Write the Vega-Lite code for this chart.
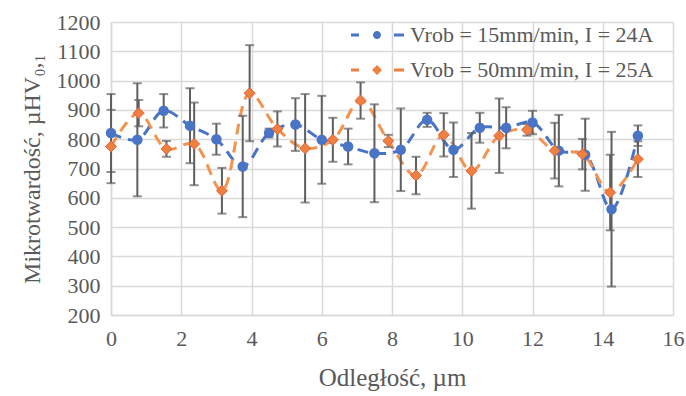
{
  "$schema": "https://vega.github.io/schema/vega-lite/v6.json",
  "width": 562,
  "height": 293,
  "autosize": {"type": "none"},
  "padding": {"left": 111, "top": 22, "right": 13, "bottom": 81},
  "background": "white",
  "config": {
    "font": "Liberation Serif",
    "view": {"stroke": null},
    "axis": {
      "labelFont": "Liberation Serif",
      "titleFont": "Liberation Serif",
      "labelFontSize": 22,
      "titleFontSize": 25,
      "titleFontWeight": "normal",
      "labelColor": "#595959",
      "titleColor": "#595959",
      "gridColor": "#d9d9d9",
      "gridWidth": 1.5,
      "domainColor": "#d9d9d9",
      "domainWidth": 1.5,
      "ticks": false,
      "labelOverlap": false,
      "labelFlush": false
    },
    "legend": {
      "labelFont": "Liberation Serif",
      "labelFontSize": 22,
      "labelColor": "#595959",
      "labelLimit": 400
    }
  },
  "data": {
    "values": [
      {"s": "Vrob = 15mm/min, I = 24A", "x": 0, "y": 821, "lo": 688, "hi": 954},
      {"s": "Vrob = 15mm/min, I = 24A", "x": 0.75, "y": 798, "lo": 605, "hi": 991},
      {"s": "Vrob = 15mm/min, I = 24A", "x": 1.5, "y": 897, "lo": 840, "hi": 954},
      {"s": "Vrob = 15mm/min, I = 24A", "x": 2.25, "y": 846, "lo": 718, "hi": 974},
      {"s": "Vrob = 15mm/min, I = 24A", "x": 3.0, "y": 800, "lo": 747, "hi": 853},
      {"s": "Vrob = 15mm/min, I = 24A", "x": 3.75, "y": 707, "lo": 534, "hi": 880},
      {"s": "Vrob = 15mm/min, I = 24A", "x": 4.5, "y": 821, "lo": 806, "hi": 836},
      {"s": "Vrob = 15mm/min, I = 24A", "x": 5.25, "y": 850, "lo": 760, "hi": 940},
      {"s": "Vrob = 15mm/min, I = 24A", "x": 6.0, "y": 798, "lo": 648, "hi": 948},
      {"s": "Vrob = 15mm/min, I = 24A", "x": 6.75, "y": 775, "lo": 714, "hi": 836},
      {"s": "Vrob = 15mm/min, I = 24A", "x": 7.5, "y": 752, "lo": 585, "hi": 919},
      {"s": "Vrob = 15mm/min, I = 24A", "x": 8.25, "y": 764, "lo": 623, "hi": 905},
      {"s": "Vrob = 15mm/min, I = 24A", "x": 9.0, "y": 866, "lo": 842, "hi": 890},
      {"s": "Vrob = 15mm/min, I = 24A", "x": 9.75, "y": 764, "lo": 671, "hi": 857},
      {"s": "Vrob = 15mm/min, I = 24A", "x": 10.5, "y": 839, "lo": 788, "hi": 890},
      {"s": "Vrob = 15mm/min, I = 24A", "x": 11.25, "y": 839, "lo": 769, "hi": 909},
      {"s": "Vrob = 15mm/min, I = 24A", "x": 12.0, "y": 857, "lo": 817, "hi": 897},
      {"s": "Vrob = 15mm/min, I = 24A", "x": 12.75, "y": 761, "lo": 639, "hi": 883},
      {"s": "Vrob = 15mm/min, I = 24A", "x": 13.5, "y": 747, "lo": 624, "hi": 870},
      {"s": "Vrob = 15mm/min, I = 24A", "x": 14.25, "y": 561, "lo": 297, "hi": 825},
      {"s": "Vrob = 15mm/min, I = 24A", "x": 15.0, "y": 812, "lo": 777, "hi": 847},
      {"s": "Vrob = 50mm/min, I = 25A", "x": 0, "y": 775, "lo": 650, "hi": 900},
      {"s": "Vrob = 50mm/min, I = 25A", "x": 0.789, "y": 889, "lo": 844, "hi": 934},
      {"s": "Vrob = 50mm/min, I = 25A", "x": 1.579, "y": 767, "lo": 740, "hi": 794},
      {"s": "Vrob = 50mm/min, I = 25A", "x": 2.368, "y": 784, "lo": 643, "hi": 925},
      {"s": "Vrob = 50mm/min, I = 25A", "x": 3.158, "y": 624, "lo": 546, "hi": 702},
      {"s": "Vrob = 50mm/min, I = 25A", "x": 3.947, "y": 957, "lo": 793, "hi": 1121},
      {"s": "Vrob = 50mm/min, I = 25A", "x": 4.737, "y": 835, "lo": 775, "hi": 895},
      {"s": "Vrob = 50mm/min, I = 25A", "x": 5.526, "y": 769, "lo": 584, "hi": 954},
      {"s": "Vrob = 50mm/min, I = 25A", "x": 6.316, "y": 798, "lo": 723, "hi": 873},
      {"s": "Vrob = 50mm/min, I = 25A", "x": 7.105, "y": 932, "lo": 870, "hi": 994},
      {"s": "Vrob = 50mm/min, I = 25A", "x": 7.895, "y": 794, "lo": 773, "hi": 815},
      {"s": "Vrob = 50mm/min, I = 25A", "x": 8.684, "y": 676, "lo": 612, "hi": 740},
      {"s": "Vrob = 50mm/min, I = 25A", "x": 9.474, "y": 815, "lo": 741, "hi": 889},
      {"s": "Vrob = 50mm/min, I = 25A", "x": 10.263, "y": 692, "lo": 563, "hi": 821},
      {"s": "Vrob = 50mm/min, I = 25A", "x": 11.053, "y": 812, "lo": 685, "hi": 939},
      {"s": "Vrob = 50mm/min, I = 25A", "x": 11.842, "y": 832, "lo": 812, "hi": 852},
      {"s": "Vrob = 50mm/min, I = 25A", "x": 12.632, "y": 761, "lo": 666, "hi": 856},
      {"s": "Vrob = 50mm/min, I = 25A", "x": 13.421, "y": 749, "lo": 697, "hi": 801},
      {"s": "Vrob = 50mm/min, I = 25A", "x": 14.211, "y": 618, "lo": 489, "hi": 747},
      {"s": "Vrob = 50mm/min, I = 25A", "x": 15, "y": 732, "lo": 671, "hi": 793}
    ]
  },
  "encoding": {
    "x": {
      "field": "x",
      "type": "quantitative",
      "scale": {"domain": [0, 16], "nice": false},
      "axis": {
        "values": [0, 2, 4, 6, 8, 10, 12, 14, 16],
        "labelPadding": 13,
        "labelFlush": false,
        "title": "Odległość, µm",
        "titlePadding": 16
      }
    }
  },
  "layer": [
    {
      "transform": [{"filter": "datum.s === 'Vrob = 15mm/min, I = 24A'"}],
      "mark": {"type": "line", "interpolate": "catmull-rom", "strokeWidth": 3, "strokeDash": [11, 7], "color": "#4A74C6"},
      "encoding": {
        "y": {
          "field": "y",
          "type": "quantitative",
          "scale": {"domain": [200, 1200], "nice": false},
          "axis": {"values": [200, 300, 400, 500, 600, 700, 800, 900, 1000, 1100, 1200], "format": "d", "labelPadding": 11, "title": "Mikrotwardość, µHV₀,₁", "titleFontSize": 24, "titlePadding": 12}
        }
      }
    },
    {
      "transform": [{"filter": "datum.s === 'Vrob = 50mm/min, I = 25A'"}],
      "mark": {"type": "line", "interpolate": "catmull-rom", "strokeWidth": 3, "strokeDash": [11, 7], "color": "#F29450"},
      "encoding": {
        "y": {
          "field": "y",
          "type": "quantitative",
          "axis": {"values": [200, 300, 400, 500, 600, 700, 800, 900, 1000, 1100, 1200], "format": "d", "labelPadding": 11, "title": "Mikrotwardość, µHV₀,₁", "titleFontSize": 24, "titlePadding": 12}
        }
      }
    },
    {
      "mark": {"type": "rule", "color": "#5f5f5f", "strokeWidth": 2},
      "encoding": {
        "y": {
          "field": "lo",
          "type": "quantitative",
          "axis": {"values": [200, 300, 400, 500, 600, 700, 800, 900, 1000, 1100, 1200], "format": "d", "labelPadding": 11, "title": "Mikrotwardość, µHV₀,₁", "titleFontSize": 24, "titlePadding": 12}
        },
        "y2": {"field": "hi"}
      }
    },
    {
      "mark": {"type": "tick", "orient": "horizontal", "color": "#5f5f5f", "size": 9, "thickness": 2},
      "encoding": {
        "y": {
          "field": "lo",
          "type": "quantitative",
          "axis": {"values": [200, 300, 400, 500, 600, 700, 800, 900, 1000, 1100, 1200], "format": "d", "labelPadding": 11, "title": "Mikrotwardość, µHV₀,₁", "titleFontSize": 24, "titlePadding": 12}
        }
      }
    },
    {
      "mark": {"type": "tick", "orient": "horizontal", "color": "#5f5f5f", "size": 9, "thickness": 2},
      "encoding": {
        "y": {
          "field": "hi",
          "type": "quantitative",
          "axis": {"values": [200, 300, 400, 500, 600, 700, 800, 900, 1000, 1100, 1200], "format": "d", "labelPadding": 11, "title": "Mikrotwardość, µHV₀,₁", "titleFontSize": 24, "titlePadding": 12}
        }
      }
    },
    {
      "transform": [{"filter": "datum.s === 'Vrob = 15mm/min, I = 24A'"}],
      "mark": {"type": "point", "shape": "circle", "filled": true, "opacity": 1, "size": 110},
      "encoding": {
        "y": {
          "field": "y",
          "type": "quantitative",
          "axis": {"values": [200, 300, 400, 500, 600, 700, 800, 900, 1000, 1100, 1200], "format": "d", "labelPadding": 11, "title": "Mikrotwardość, µHV₀,₁", "titleFontSize": 24, "titlePadding": 12}
        },
        "color": {
          "field": "s",
          "type": "nominal",
          "scale": {"domain": ["Vrob = 15mm/min, I = 24A", "Vrob = 50mm/min, I = 25A"], "range": ["#4A74C6", "#EE8040"]},
          "legend": {
            "title": null,
            "orient": "none",
            "legendX": 255,
            "legendY": 2,
            "padding": 0,
            "symbolSize": 400,
            "labelOffset": 22,
            "rowPadding": 13,
            "symbolStrokeWidth": 0,
            "symbolOpacity": 1,
            "encode": {
              "symbols": {
                "update": {
                  "shape": {"signal": "datum.index === 0 ? 'M-2.6,-0.15H-1.8V0.15H-2.6Z M1.7,-0.15H2.7V0.15H1.7Z M0.4,0A0.4,0.4,0,1,1,-0.4,0A0.4,0.4,0,1,1,0.4,0Z' : 'M-2.6,-0.15H-1.8V0.15H-2.6Z M1.7,-0.15H2.7V0.15H1.7Z M0,-0.5L0.5,0L0,0.5L-0.5,0Z'"}
                }
              }
            }
          }
        }
      }
    },
    {
      "transform": [{"filter": "datum.s === 'Vrob = 50mm/min, I = 25A'"}],
      "mark": {"type": "point", "shape": "diamond", "filled": true, "opacity": 1, "size": 120, "color": "#EE8040", "stroke": "#E5603A", "strokeWidth": 1},
      "encoding": {
        "y": {
          "field": "y",
          "type": "quantitative",
          "axis": {"values": [200, 300, 400, 500, 600, 700, 800, 900, 1000, 1100, 1200], "format": "d", "labelPadding": 11, "title": "Mikrotwardość, µHV₀,₁", "titleFontSize": 24, "titlePadding": 12}
        }
      }
    }
  ]
}
